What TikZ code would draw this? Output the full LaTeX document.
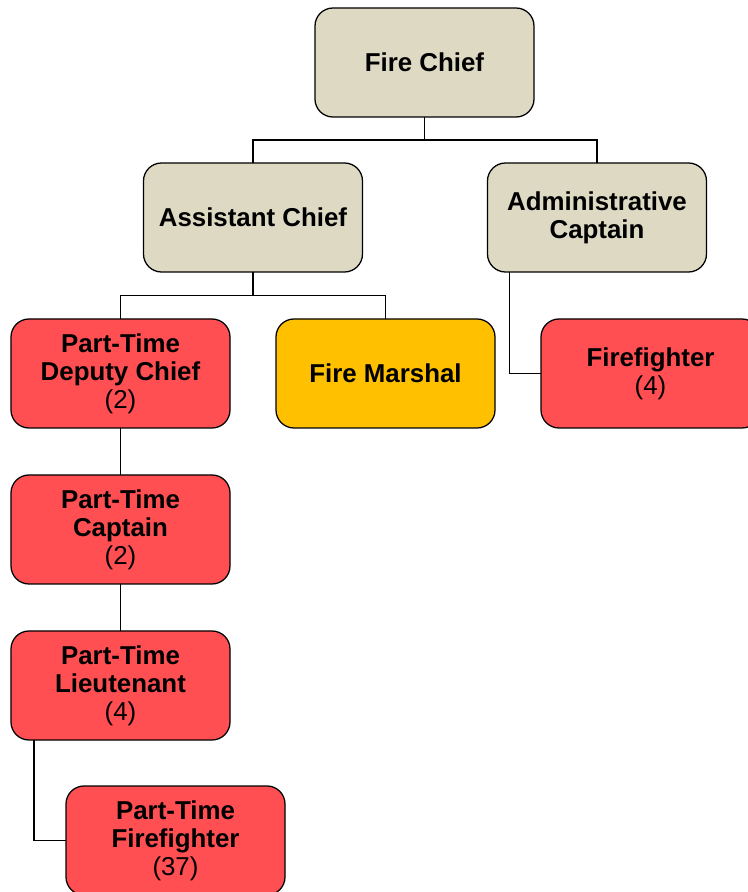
\documentclass[tikz,border=0pt]{standalone}
\usepackage{fontspec}
\setmainfont{Liberation Sans}
\usepackage{xcolor}
\usepackage{tikz}
\usetikzlibrary{positioning}

\definecolor{beige}{HTML}{DDD9C3}
\definecolor{firered}{HTML}{FF4F52}
\definecolor{gold}{HTML}{FFC000}

\begin{document}
\begin{tikzpicture}[
    node distance=1.175cm and 1.15cm,
    box/.style={rectangle, rounded corners=0.45cm, draw, line width=0.9pt, outer sep=0pt, minimum width=5.475cm, minimum height=2.725cm, align=center, inner sep=0pt, font=\fontsize{18.4}{20}\selectfont},
    command/.style={box, fill=beige},
    crew/.style={box, fill=firered},
    staff/.style={box, fill=gold},
    link/.style={line width=0.9pt}
]
\useasboundingbox (0,0) rectangle (18.7,22.3);

\node[command] (chief) at (10.6125,20.7375) {\textbf{Fire Chief}};
\node[command] (assistant) at (6.325,16.8625) {\textbf{Assistant Chief}};
\node[command, right=3.125cm of assistant] (admin) {\textbf{Administrative}\\\textbf{Captain}};

\node[crew] (deputy) at (3.0125,12.9625) {\textbf{Part-Time}\\\textbf{Deputy Chief}\\(2)};
\node[staff, right=of deputy] (marshal) {\textbf{Fire Marshal}};
\node[crew, right=of marshal] (firefighter) {\textbf{Firefighter}\\(4)};
\node[crew, below=of deputy] (captain) {\textbf{Part-Time}\\\textbf{Captain}\\(2)};
\node[crew, below=of captain] (lieut) {\textbf{Part-Time}\\\textbf{Lieutenant}\\(4)};
\node[crew, below=1.15cm of lieut, xshift=1.375cm] (ptfire) {\textbf{Part-Time}\\\textbf{Firefighter}\\(37)};

\draw[link] (chief.south) -- ++(0,-0.575) -| (assistant.north);
\draw[link] (chief.south) -- ++(0,-0.575) -| (admin.north);
\draw[link] (assistant.south) -- ++(0,-0.5875) -| (deputy.north);
\draw[link] (assistant.south) -- ++(0,-0.5875) -| (marshal.north);
\draw[link] ([xshift=0.55cm]admin.south west) |- (firefighter.west);
\draw[link] (deputy) -- (captain);
\draw[link] (captain) -- (lieut);
\draw[link] ([xshift=0.575cm]lieut.south west) |- (ptfire.west);
\end{tikzpicture}
\end{document}
